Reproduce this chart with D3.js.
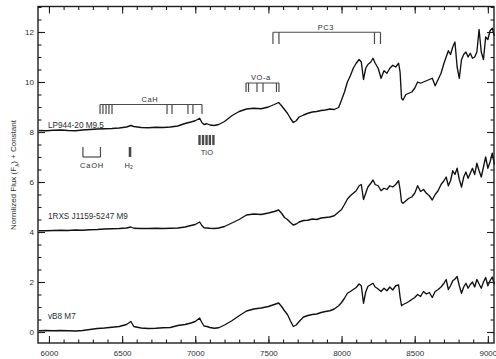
<!DOCTYPE html>
<html>
<head>
<meta charset="utf-8">
<script src="https://cdn.jsdelivr.net/npm/d3@7"></script>
<style>
  html, body { margin: 0; padding: 0; background: #fff; }
  svg { display: block; font-family: "Liberation Sans", Arial, sans-serif; }
</style>
</head>
<body>
<svg id="chart" width="496" height="359"></svg>
<script>
// Wavelength grid (Å) shared by the three spectra
const wavelength = [
  5930, 5980, 6030, 6080, 6130, 6180, 6230, 6280, 6330, 6380, 6430, 6480, 6530, 6560, 6580,
  6630, 6680, 6730, 6780, 6830, 6880, 6930, 6970, 7000, 7030, 7045, 7060, 7080, 7100, 7130,
  7160, 7200, 7250, 7300, 7350, 7400, 7450, 7500, 7540, 7570, 7590, 7610, 7630, 7650, 7670,
  7690, 7710, 7740, 7770, 7800, 7830, 7860, 7890, 7920, 7950, 7980, 8000, 8020, 8040, 8060,
  8080, 8100, 8120, 8135, 8150, 8165, 8180, 8200, 8215, 8230, 8250, 8270, 8290, 8310, 8330,
  8350, 8370, 8390, 8400, 8410, 8420, 8440, 8460, 8480, 8500, 8520, 8540, 8560, 8580, 8600,
  8620, 8640, 8660, 8680, 8700, 8715, 8730, 8745, 8760, 8775, 8790, 8805, 8820, 8835, 8850,
  8865, 8880, 8895, 8910, 8925, 8940, 8955, 8970, 8985, 9000, 9015, 9030, 9045
];

// Normalized flux, LP944-20 (M9.5)
const fluxLP944 = [
  0.06, 0.05, 0.07, 0.08, 0.06, 0.05, 0.08, 0.10, 0.12, 0.13, 0.14, 0.16, 0.20, 0.26, 0.22,
  0.18, 0.17, 0.19, 0.18, 0.20, 0.24, 0.34, 0.40, 0.45, 0.55, 0.38, 0.30, 0.33, 0.28, 0.26,
  0.30, 0.42, 0.65, 0.82, 0.92, 0.95, 0.93, 1.00, 1.10, 1.18, 1.05, 0.90, 0.75, 0.55, 0.38,
  0.45, 0.60, 0.68, 0.75, 0.80, 0.82, 0.86, 0.88, 0.92, 0.90, 0.98, 1.28, 1.60, 2.00, 2.25,
  2.55, 2.75, 2.90, 2.80, 2.10, 2.55, 2.70, 2.80, 2.95, 2.75, 2.55, 2.15, 2.45, 2.35, 2.55,
  2.67, 2.60, 2.75, 2.40, 1.35, 1.28, 1.50, 1.55, 1.60, 1.75, 2.00, 1.95, 2.00, 2.05, 2.10,
  2.15, 1.85, 2.10, 2.35, 2.75, 3.00, 3.25, 3.10, 3.40, 3.60, 2.60, 2.15, 2.90, 3.10, 3.20,
  3.00, 3.15, 2.95, 3.00, 3.20, 4.10, 3.20, 2.90, 3.80, 3.70, 4.05, 4.15, 3.85
];

// Normalized flux, 1RXS J1159-5247 (M9)
const flux1RXS = [
  0.05, 0.05, 0.06, 0.07, 0.06, 0.08, 0.07, 0.09, 0.10, 0.12, 0.13, 0.14, 0.16, 0.20, 0.15,
  0.14, 0.14, 0.15, 0.14, 0.15, 0.16, 0.20, 0.26, 0.30, 0.40, 0.26, 0.17, 0.16, 0.15, 0.14,
  0.16, 0.22, 0.36, 0.50, 0.68, 0.72, 0.70, 0.76, 0.82, 0.88, 0.75, 0.58, 0.50, 0.38, 0.28,
  0.32, 0.40, 0.46, 0.47, 0.52, 0.50, 0.56, 0.58, 0.60, 0.65, 0.80, 0.90, 1.10, 1.32, 1.45,
  1.55, 1.65, 1.85, 1.90, 1.30, 1.55, 1.80, 1.95, 2.08, 1.90, 1.85, 1.65, 1.75, 1.70, 1.85,
  1.80, 1.90, 2.05, 1.70, 1.20, 1.15, 1.25, 1.35, 1.40, 1.55, 1.85, 1.62, 1.70, 1.55, 1.45,
  1.28, 1.50, 1.65, 1.90, 2.05, 2.20, 1.85, 2.05, 2.45, 2.30, 2.55, 2.10, 1.80, 2.20, 2.40,
  2.15, 2.35, 2.55, 2.30, 2.75, 2.45, 2.20, 2.60, 3.00, 2.55, 2.80, 3.15, 2.70
];

// Normalized flux, vB8 (M7)
const fluxVB8 = [
  0.05, 0.06, 0.05, 0.06, 0.05, 0.04, 0.06, 0.10, 0.14, 0.16, 0.19, 0.22, 0.30, 0.42, 0.22,
  0.16, 0.14, 0.15, 0.17, 0.18, 0.26, 0.30, 0.36, 0.42, 0.56, 0.38, 0.24, 0.22, 0.18, 0.15,
  0.17, 0.28, 0.45, 0.65, 0.84, 0.92, 0.96, 1.02, 1.10, 1.16, 1.02, 0.85, 0.70, 0.45, 0.22,
  0.28, 0.42, 0.60, 0.66, 0.70, 0.72, 0.78, 0.82, 0.85, 0.92, 1.05, 1.18, 1.35, 1.55, 1.62,
  1.70, 1.78, 1.92, 1.85, 1.15, 1.60, 1.82, 1.90, 1.95, 1.80, 1.72, 1.62, 1.75, 1.65, 1.80,
  1.68, 1.85, 1.88, 1.40, 1.05, 1.10, 1.15, 1.22, 1.30, 1.38, 1.50, 1.42, 1.62, 1.52, 1.58,
  1.38, 1.62, 1.70, 1.80, 1.95, 2.10, 1.70, 1.85, 2.05, 2.12, 2.22, 1.85, 1.55, 1.80, 1.95,
  1.75, 1.90, 2.00, 1.80, 2.10, 1.92, 1.75, 2.00, 2.18, 1.85, 2.05, 2.20, 1.90
];

const starNames = ["LP944-20 M9.5", "1RXS J1159-5247 M9", "vB8 M7"];
const offsets = [8, 4, 0];
const fluxes = [fluxLP944, flux1RXS, fluxVB8];

const xTicks = [6000, 6500, 7000, 7500, 8000, 8500, 9000];
const yTicks = [0, 2, 4, 6, 8, 10, 12];

// Molecular band markers (wavelengths in Å)
const cahLines = [6349, 6369, 6390, 6410, 6431, 6807, 6841, 6950, 6984, 7046];
const voLines = [7347, 7364, 7422, 7463, 7555, 7572];
const pc3Lines = [7531, 7572, 8225, 8266];
const tioLines = [7029, 7053, 7077, 7100, 7124];
const caohRange = [6232, 6352];
const h2Line = 6554;

(function () {
  const svg = d3.select("#chart");
  const pL = 38, pR = 494, pT = 6.5, pB = 343;

  const x = d3.scaleLinear().domain([5925, 9042]).range([pL, pR]);
  const y = d3.scaleLinear().domain([-0.44, 13.02]).range([pB, pT]);

  const ink = "#1e1e1e";
  const annot = "#4a4a4a";
  const textCol = "#2b2f36";

  // Spectra
  const line = d3.line().x(d => x(d[0])).y(d => y(d[1]));
  fluxes.forEach((f, i) => {
    const pts = wavelength.map((w, j) => [w, f[j] + offsets[i]]);
    svg.append("path")
      .attr("d", line(pts))
      .attr("fill", "none")
      .attr("stroke", "#111")
      .attr("stroke-width", 1.35)
      .attr("stroke-linejoin", "round");
  });

  // Axes: major and minor ticks on all four sides, pointing inward
  function styleAxis(g) {
    g.select(".domain").remove();
    g.selectAll("line").attr("stroke", ink).attr("stroke-width", 1.1);
    g.selectAll("text").attr("fill", textCol).attr("font-size", 8)
      .attr("font-family", "Liberation Sans, Arial, sans-serif");
  }
  const xMinor = d3.range(6000, 9042, 100);
  const yMinor = d3.range(0, 13.01, 0.5);

  svg.append("g").attr("transform", `translate(0,${pB})`)
    .call(d3.axisBottom(x).tickValues(xTicks).tickSize(-7).tickPadding(7).tickFormat(d3.format("d")))
    .call(styleAxis);
  svg.append("g").attr("transform", `translate(0,${pB})`)
    .call(d3.axisBottom(x).tickValues(xMinor).tickSize(-3.5).tickFormat(""))
    .call(styleAxis);
  svg.append("g").attr("transform", `translate(0,${pT})`)
    .call(d3.axisTop(x).tickValues(xTicks).tickSize(-7).tickFormat(""))
    .call(styleAxis);
  svg.append("g").attr("transform", `translate(0,${pT})`)
    .call(d3.axisTop(x).tickValues(xMinor).tickSize(-3.5).tickFormat(""))
    .call(styleAxis);

  svg.append("g").attr("transform", `translate(${pL},0)`)
    .call(d3.axisLeft(y).tickValues(yTicks).tickSize(-7).tickPadding(4).tickFormat(d3.format("d")))
    .call(styleAxis);
  svg.append("g").attr("transform", `translate(${pL},0)`)
    .call(d3.axisLeft(y).tickValues(yMinor).tickSize(-3.5).tickFormat(""))
    .call(styleAxis);
  svg.append("g").attr("transform", `translate(${pR},0)`)
    .call(d3.axisRight(y).tickValues(yTicks).tickSize(-7).tickFormat(""))
    .call(styleAxis);
  svg.append("g").attr("transform", `translate(${pR},0)`)
    .call(d3.axisRight(y).tickValues(yMinor).tickSize(-3.5).tickFormat(""))
    .call(styleAxis);

  // Frame
  svg.append("rect")
    .attr("x", pL).attr("y", pT)
    .attr("width", pR - pL).attr("height", pB - pT)
    .attr("fill", "none").attr("stroke", ink).attr("stroke-width", 1.4);

  // Axis titles
  const yl = svg.append("text")
    .attr("transform", `translate(16,175) rotate(-90)`)
    .attr("text-anchor", "middle")
    .attr("font-size", 8).attr("fill", textCol);
  yl.append("tspan").text("Normlized Flux (F");
  yl.append("tspan").attr("baseline-shift", "sub").attr("font-size", 6).text("λ");
  yl.append("tspan").text(") + Constant");

  svg.append("text")
    .attr("x", 266).attr("y", 366)
    .attr("text-anchor", "middle")
    .attr("font-size", 8).attr("fill", textCol)
    .text("Wavelength (Å)");

  // Star labels
  const labelLevels = [8.16, 4.52, 0.52];
  starNames.forEach((n, i) => {
    svg.append("text")
      .attr("x", x(5993)).attr("y", y(labelLevels[i]))
      .attr("font-size", 8.2).attr("fill", textCol)
      .text(n);
  });

  // Band markers
  function seg(x1, y1, x2, y2, w) {
    svg.append("line")
      .attr("x1", x(x1)).attr("y1", y(y1)).attr("x2", x(x2)).attr("y2", y(y2))
      .attr("stroke", annot).attr("stroke-width", w || 1.2);
  }
  function label(t, wx, vy, ls) {
    return svg.append("text")
      .attr("x", x(wx)).attr("y", y(vy))
      .attr("text-anchor", "middle").attr("dominant-baseline", "central")
      .attr("font-size", 7.5).attr("fill", textCol)
      .attr("letter-spacing", ls == null ? 0.6 : ls)
      .text(t);
  }

  // CaH
  seg(cahLines[0], 9.1, cahLines[cahLines.length - 1], 9.1);
  cahLines.forEach(w => seg(w, 9.1, w, 8.72));
  label("CaH", 6690, 9.3);

  // VO-a
  seg(voLines[0], 9.96, voLines[voLines.length - 1], 9.96);
  voLines.forEach(w => seg(w, 9.96, w, 9.6));
  label("VO-a", 7449, 10.2);

  // PC3
  seg(pc3Lines[0], 11.99, pc3Lines[pc3Lines.length - 1], 11.99);
  pc3Lines.forEach(w => seg(w, 11.99, w, 11.52));
  label("PC3", 7893, 12.2);

  // TiO
  tioLines.forEach(w => seg(w, 7.88, w, 7.48, 2.4));
  label("TiO", 7080, 7.2, 0.2);

  // CaOH
  seg(caohRange[0], 7.4, caohRange[0], 7.0);
  seg(caohRange[1], 7.4, caohRange[1], 7.0);
  seg(caohRange[0], 7.0, caohRange[1], 7.0);
  label("CaOH", 6294, 6.68, 0.8);

  // H2
  seg(h2Line, 7.4, h2Line, 7.0, 2.6);
  const h2 = label("", 6545, 6.68, 0);
  h2.append("tspan").text("H");
  h2.append("tspan").attr("font-size", 5).attr("dy", 2).text("2");
})();
</script>
</body>
</html>
